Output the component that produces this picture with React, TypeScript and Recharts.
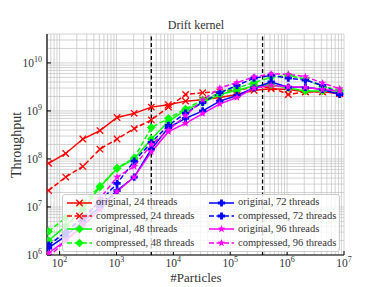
import React from 'react'
import { LineChart, Line, XAxis, YAxis, CartesianGrid, ReferenceLine, Legend } from 'recharts'

// number of particles per run (x)
const particles = [64, 128, 256, 512, 1024, 2048, 4096, 8192, 16384, 32768, 65536, 131072, 262144, 524288, 1048576, 2097152, 4194304, 8388608]

// throughput
const orig24 = [8.1e7, 1.3e8, 2.6e8, 3.9e8, 7.3e8, 8.9e8, 1.2e9, 1.35e9, 1.6e9, 1.7e9, 1.9e9, 2.2e9, 2.7e9, 2.9e9, 2.8e9, 2.5e9, 2.5e9, 2.3e9]
const comp24 = [2.2e7, 4.2e7, 7e7, 1.6e8, 2.6e8, 4.3e8, 6.5e8, 1.2e9, 2.2e9, 2.4e9, 2.5e9, 2.7e9, 3.1e9, 3.1e9, 2.2e9, 2.5e9, 2.5e9, 2.3e9]
const orig48 = [2e6, 4e6, 9e6, 2.6e7, 6.3e7, 1e8, 2.6e8, 6e8, 1.05e9, 1.5e9, 2.2e9, 2.7e9, 3.3e9, 3.5e9, 3e9, 2.6e9, 2.6e9, 2.6e9]
const comp48 = [3.1e6, 6e6, 1.2e7, 2.7e7, 6.5e7, 1.05e8, 4.5e8, 7e8, 1.1e9, 1.7e9, 2.4e9, 3e9, 3.9e9, 5e9, 5.5e9, 4.6e9, 3.2e9, 2.7e9]
const orig72 = [1.4e6, 2.5e6, 5e6, 1e7, 2.2e7, 4.2e7, 1.6e8, 4.5e8, 7e8, 1e9, 1.6e9, 2.1e9, 3e9, 4e9, 3.1e9, 3.1e9, 2.8e9, 2.2e9]
const comp72 = [1.6e6, 3e6, 6e6, 1.3e7, 3.1e7, 9e7, 2.2e8, 5e8, 9e8, 1.5e9, 2.4e9, 3.4e9, 4.8e9, 5.5e9, 4.8e9, 4.4e9, 3.4e9, 2.3e9]
const orig96 = [1.1e6, 2e6, 4e6, 9e6, 2.1e7, 4.2e7, 1.4e8, 3.7e8, 5.5e8, 8.8e8, 1.4e9, 1.9e9, 3e9, 3.4e9, 3.2e9, 3.1e9, 2.8e9, 2.6e9]
const comp96 = [9e5, 2e6, 4.5e6, 1.5e7, 4.2e7, 7e7, 2e8, 4e8, 8e8, 1.7e9, 3e9, 3.9e9, 5.1e9, 5.9e9, 5.8e9, 5.2e9, 3.8e9, 2.9e9]

const cacheLines = [4096, 3.7e5]

const xMajor = [1e2, 1e3, 1e4, 1e5, 1e6, 1e7]
const yMajor = [1e6, 1e7, 1e8, 1e9, 1e10]

const X_DOMAIN = [60, 1e7]
const Y_DOMAIN = [1e6, 4e10]

// log ticks (1..9 per decade) inside a range, for grid + minor ticks
function logTicks(lo: number, hi: number) {
  const out: number[] = []
  for (let d = Math.floor(Math.log10(lo)); d <= Math.ceil(Math.log10(hi)); d++) {
    for (let m = 1; m <= 9; m++) {
      const v = m * Math.pow(10, d)
      if (v >= lo && v <= hi) out.push(v)
    }
  }
  return out
}
const xAll = logTicks(X_DOMAIN[0], X_DOMAIN[1])
const yAll = logTicks(Y_DOMAIN[0], Y_DOMAIN[1])

const FONT = '"Liberation Serif", "DejaVu Serif", serif'

const series = [
  { key: 'orig24', name: 'original, 24 threads', color: '#ff0000', dashed: false, marker: 'x', values: orig24 },
  { key: 'comp24', name: 'compressed, 24 threads', color: '#ff0000', dashed: true, marker: 'x', values: comp24 },
  { key: 'orig48', name: 'original, 48 threads', color: '#00ff00', dashed: false, marker: 'D', values: orig48 },
  { key: 'comp48', name: 'compressed, 48 threads', color: '#00ff00', dashed: true, marker: 'D', values: comp48 },
  { key: 'orig72', name: 'original, 72 threads', color: '#0000ff', dashed: false, marker: 'P', values: orig72 },
  { key: 'comp72', name: 'compressed, 72 threads', color: '#0000ff', dashed: true, marker: 'P', values: comp72 },
  { key: 'orig96', name: 'original, 96 threads', color: '#ff00ff', dashed: false, marker: '*', values: orig96 },
  { key: 'comp96', name: 'compressed, 96 threads', color: '#ff00ff', dashed: true, marker: '*', values: comp96 },
]

const data = particles.map((p, i) => {
  const row: any = { p }
  series.forEach(s => { row[s.key] = s.values[i] })
  return row
})

function Marker({ kind, cx, cy, color }: { kind: string; cx: number; cy: number; color: string }) {
  if (kind === 'x') {
    const r = 3.2
    return (
      <g stroke={color} strokeWidth={1.3}>
        <line x1={cx - r} y1={cy - r} x2={cx + r} y2={cy + r} />
        <line x1={cx - r} y1={cy + r} x2={cx + r} y2={cy - r} />
      </g>
    )
  }
  if (kind === 'D') {
    const r = 4.3
    return <polygon points={`${cx},${cy - r} ${cx + r},${cy} ${cx},${cy + r} ${cx - r},${cy}`} fill={color} />
  }
  if (kind === 'P') {
    const a = 3.6, t = 1.4
    return (
      <polygon
        fill={color}
        points={`${cx - t},${cy - a} ${cx + t},${cy - a} ${cx + t},${cy - t} ${cx + a},${cy - t} ${cx + a},${cy + t} ${cx + t},${cy + t} ${cx + t},${cy + a} ${cx - t},${cy + a} ${cx - t},${cy + t} ${cx - a},${cy + t} ${cx - a},${cy - t} ${cx - t},${cy - t}`}
      />
    )
  }
  // star
  const pts: string[] = []
  for (let i = 0; i < 10; i++) {
    const r = i % 2 === 0 ? 4 : 1.7
    const ang = -Math.PI / 2 + (i * Math.PI) / 5
    pts.push(`${cx + r * Math.cos(ang)},${cy + r * Math.sin(ang)}`)
  }
  return <polygon points={pts.join(' ')} fill={color} />
}

const makeDot = (kind: string, color: string) => (props: any) => {
  const { cx, cy, index } = props
  if (cx == null || cy == null || isNaN(cy)) return <g key={index} />
  return <Marker key={index} kind={kind} cx={cx} cy={cy} color={color} />
}

const XTick = (props: any) => {
  const { x, y, payload } = props
  const e = Math.round(Math.log10(payload.value))
  return (
    <text x={x} y={y + 8} textAnchor="middle" fontFamily={FONT} fontSize={11.5} fill="#333">
      <tspan>10</tspan>
      <tspan dy={-5} fontSize={8}>{e}</tspan>
    </text>
  )
}

const YTick = (props: any) => {
  const { x, y, payload } = props
  const e = Math.round(Math.log10(payload.value))
  return (
    <text x={x} y={y + 4} textAnchor="end" fontFamily={FONT} fontSize={11.5} fill="#333">
      <tspan>10</tspan>
      <tspan dy={-5} fontSize={8}>{e}</tspan>
    </text>
  )
}

const noLabel = () => <g />

function LegendBox() {
  const col1 = series.slice(0, 4)
  const col2 = series.slice(4)
  const item = (s: typeof series[number]) => (
    <div key={s.key} style={{ display: 'flex', alignItems: 'center', height: 13.4 }}>
      <svg width={27} height={10} style={{ marginRight: 3 }}>
        <line x1={1} y1={5} x2={26} y2={5} stroke={s.color} strokeWidth={1.5} strokeDasharray={s.dashed ? '5 2.5' : undefined} />
        <Marker kind={s.marker} cx={13.5} cy={5} color={s.color} />
      </svg>
      <span>{s.name}</span>
    </div>
  )
  return (
    <div
      style={{
        width: 278,
        height: 58,
        boxSizing: 'border-box',
        background: 'rgba(255,255,255,0.8)',
        border: '1px solid #cccccc',
        borderRadius: 3,
        fontFamily: FONT,
        fontSize: 10.5,
        color: '#333',
        display: 'flex',
        padding: '1px 0 0 3px',
        lineHeight: 1,
        whiteSpace: 'nowrap',
      }}
    >
      <div style={{ width: 142 }}>{col1.map(item)}</div>
      <div>{col2.map(item)}</div>
    </div>
  )
}

export default function App() {
  return (
    <div style={{ position: 'absolute', left: 0, top: 0, width: 382, height: 287, background: '#fff' }}>
      <LineChart width={382} height={287} data={data} margin={{ top: 34, right: 38, bottom: 0, left: 0 }}>
        {/* minor/grid axes first so they sit right on the frame */}
        <XAxis xAxisId="xm" dataKey="p" type="number" scale="log" domain={X_DOMAIN} allowDataOverflow ticks={xAll} interval={0} height={0} tickSize={-2} tick={noLabel} axisLine={false} tickLine={{ stroke: '#000' }} />
        <YAxis yAxisId="ym" type="number" scale="log" domain={Y_DOMAIN} allowDataOverflow ticks={yAll} interval={0} width={0} tickSize={-2} tick={noLabel} axisLine={false} tickLine={{ stroke: '#000' }} />
        <XAxis xAxisId="xt" orientation="top" type="number" scale="log" domain={X_DOMAIN} allowDataOverflow ticks={xAll} interval={0} height={0} tickSize={-2} tick={noLabel} axisLine={{ stroke: '#000', strokeWidth: 1.2 }} tickLine={{ stroke: '#000' }} />
        <XAxis xAxisId="xt2" orientation="top" type="number" scale="log" domain={X_DOMAIN} allowDataOverflow ticks={xMajor} interval={0} height={0} tickSize={-4} tick={noLabel} axisLine={false} tickLine={{ stroke: '#000' }} />
        <YAxis yAxisId="yr" orientation="right" type="number" scale="log" domain={Y_DOMAIN} allowDataOverflow ticks={yAll} interval={0} width={0} tickSize={-2} tick={noLabel} axisLine={{ stroke: '#000', strokeWidth: 1.2 }} tickLine={{ stroke: '#000' }} />
        <YAxis yAxisId="yr2" orientation="right" type="number" scale="log" domain={Y_DOMAIN} allowDataOverflow ticks={yMajor} interval={0} width={0} tickSize={-4} tick={noLabel} axisLine={false} tickLine={{ stroke: '#000' }} />
        <XAxis xAxisId="x" dataKey="p" type="number" scale="log" domain={X_DOMAIN} allowDataOverflow ticks={xMajor} interval={0} height={32} tickSize={-4} tickMargin={8} tick={<XTick />} axisLine={{ stroke: '#000', strokeWidth: 1.2 }} tickLine={{ stroke: '#000' }} />
        <YAxis yAxisId="y" type="number" scale="log" domain={Y_DOMAIN} allowDataOverflow ticks={yMajor} interval={0} width={47} tickSize={-4} tickMargin={9} tick={<YTick />} axisLine={{ stroke: '#000', strokeWidth: 1.2 }} tickLine={{ stroke: '#000' }} />
        <CartesianGrid xAxisId="xm" yAxisId="ym" stroke="#c8c8c8" strokeWidth={0.8} />
        {cacheLines.map(v => (
          <ReferenceLine key={v} x={v} xAxisId="x" yAxisId="y" stroke="#000" strokeWidth={1.3} strokeDasharray="4 2.5" />
        ))}
        {series.map(s => (
          <Line
            key={s.key}
            xAxisId="x"
            yAxisId="y"
            dataKey={s.key}
            name={s.name}
            stroke={s.color}
            strokeWidth={1.5}
            strokeDasharray={s.dashed ? '5 2.5' : undefined}
            dot={makeDot(s.marker, s.color)}
            activeDot={false}
            isAnimationActive={false}
          />
        ))}
        <Legend
          layout="vertical"
          align="center"
          verticalAlign="middle"
          content={() => <LegendBox />}
          wrapperStyle={{ position: 'absolute', left: 62, top: 194, width: 278, height: 58 }}
        />
      </LineChart>
      <svg width={382} height={287} style={{ position: 'absolute', left: 0, top: 0, pointerEvents: 'none' }}>
        <text x={196} y={29} textAnchor="middle" fontFamily={FONT} fontSize={12} fill="#333">Drift kernel</text>
        <text x={196} y={282} textAnchor="middle" fontFamily={FONT} fontSize={13} fill="#333">#Particles</text>
        <text transform="translate(21,145) rotate(-90)" textAnchor="middle" fontFamily={FONT} fontSize={14} fill="#333">Throughput</text>
      </svg>
    </div>
  )
}
